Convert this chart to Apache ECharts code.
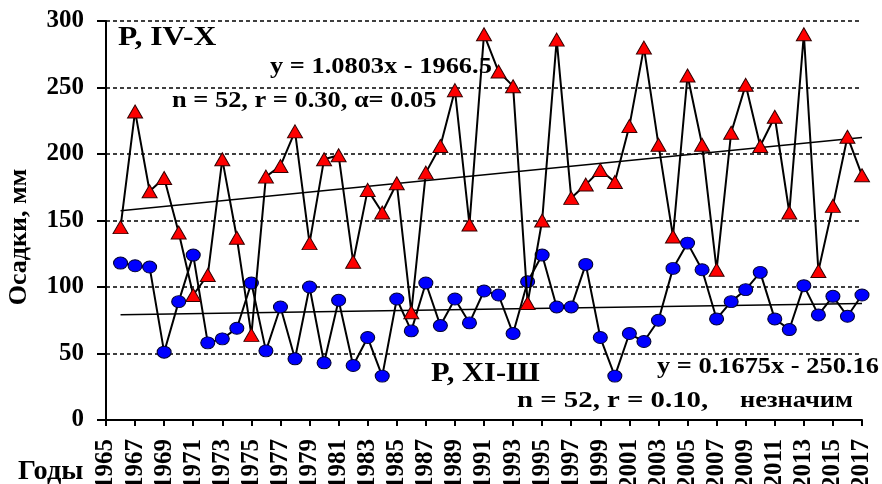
<!DOCTYPE html>
<html>
<head>
<meta charset="utf-8">
<script src="https://cdn.jsdelivr.net/npm/echarts@6/dist/echarts.min.js"></script>
<style>
html,body{margin:0;padding:0;background:#fff;}
#chart{width:882px;height:484px;}
</style>
</head>
<body>
<div id="chart"></div>
<script>
var years = [1966,1967,1968,1969,1970,1971,1972,1973,1974,1975,
             1976,1977,1978,1979,1980,1981,1982,1983,1984,1985,
             1986,1987,1988,1989,1990,1991,1992,1993,1994,1995,
             1996,1997,1998,1999,2000,2001,2002,2003,2004,2005,
             2006,2007,2008,2009,2010,2011,2012,2013,2014,2015,
             2016,2017];
var warmSeason = [145,232,172,182,141,94,109,196,137,64,
                  183,191,217,133,196,199,119,173,156,178,
                  81,186,206,248,147,290,262,251,88,150,
                  286,167,177,188,179,221,280,207,138,259,
                  207,113,216,252,206,228,156,290,112,161,
                  213,184];
var coldSeason = [118,116,115,51,89,124,58,61,69,103,
                  52,85,46,100,43,90,41,62,33,91,
                  67,103,71,91,73,97,94,65,104,124,
                  85,85,117,62,33,65,59,75,114,133,
                  113,76,89,98,111,76,68,101,79,93,
                  78,94];
var warmTrend = [1.0803, -1966.5];
var coldTrend = [0.1675, -250.16];
var yTicks = [0, 50, 100, 150, 200, 250, 300];
var xTickRange = [1965, 2017, 2];

function pairs(xs, ys){ return xs.map(function(x,i){ return [x, ys[i]]; }); }
function trend(c){
  var a = years[0], b = years[years.length-1];
  return [[a, c[0]*a + c[1]], [b, c[0]*b + c[1]]];
}

var FONT = '"Liberation Serif","Times New Roman",serif';
var chart = echarts.init(document.getElementById('chart'), null, {renderer:'canvas'});

function txt(x, y, s, size, sx){
  return {type:'text', x:x, y:y, scaleX:sx||1, style:{text:s, font:'bold '+size+'px '+FONT, fill:'#000', verticalAlign:'bottom', align:'left'}, z:100};
}

chart.setOption({
  animation:false,
  backgroundColor:'#fff',
  grid:{left:106, right:20, top:21, bottom:64, containLabel:false, outerBoundsMode:'none'},
  xAxis:{
    type:'value', min:xTickRange[0], max:xTickRange[1], interval:xTickRange[2],
    axisLine:{lineStyle:{color:'#000', width:2}},
    axisTick:{show:true, length:6, lineStyle:{color:'#000', width:2}},
    axisLabel:{rotate:90, margin:19, color:'#000', fontFamily:FONT, fontWeight:'bold', fontSize:25,
               showMinLabel:true, showMaxLabel:true, formatter:function(v){return String(v);}},
    splitLine:{show:false}
  },
  yAxis:{
    type:'value', min:yTicks[0], max:yTicks[yTicks.length-1], interval:yTicks[1]-yTicks[0],
    axisLine:{show:true, lineStyle:{color:'#000', width:2}},
    axisTick:{show:true, length:9, lineStyle:{color:'#000', width:2}},
    axisLabel:{margin:22, color:'#000', fontFamily:FONT, fontWeight:'bold', fontSize:25,
               formatter:function(v){return String(v);}},
    splitLine:{show:true, lineStyle:{color:'#000', width:1.5, type:[4,3]}}
  },
  series:[
    {type:'line', data:trend(warmTrend), symbol:'none', lineStyle:{color:'#000', width:1.5}, z:1, silent:true},
    {type:'line', data:trend(coldTrend), symbol:'none', lineStyle:{color:'#000', width:1.5}, z:1, silent:true},
    {type:'line', name:'P, XI-III', data:pairs(years, coldSeason), symbol:'circle', symbolSize:[14,12],
     lineStyle:{color:'#000', width:2}, itemStyle:{color:'#0000ff', borderColor:'#000033', borderWidth:1}, z:3},
    {type:'line', name:'P, IV-X', data:pairs(years, warmSeason), symbol:'triangle', symbolSize:[15,13],
     lineStyle:{color:'#000', width:2}, itemStyle:{color:'#ff0000', borderColor:'#330000', borderWidth:1}, z:4}
  ],
  graphic:[
    txt(118, 52, 'P, IV-X', 27, 1.17),
    txt(270, 79, 'y = 1.0803x - 1966.5', 24, 1.1),
    txt(172, 113, 'n = 52, r = 0.30, \u03b1= 0.05', 24, 1.1),
    txt(431, 388, 'P, XI-\u0428', 27, 1.13),
    txt(657, 379, 'y = 0.1675x - 250.16', 24, 1.1),
    txt(517, 413, 'n = 52, r = 0.10,', 24, 1.2),
    txt(740, 413, 'незначим', 24, 1.1),
    txt(18, 486, 'Годы', 27, 1.05),
    {type:'text', x:19, y:237, rotation:Math.PI/2,
     style:{text:'Осадки, мм', font:'bold 26px '+FONT, fill:'#000', align:'center', verticalAlign:'middle'}, z:100}
  ]
});
</script>
</body>
</html>
